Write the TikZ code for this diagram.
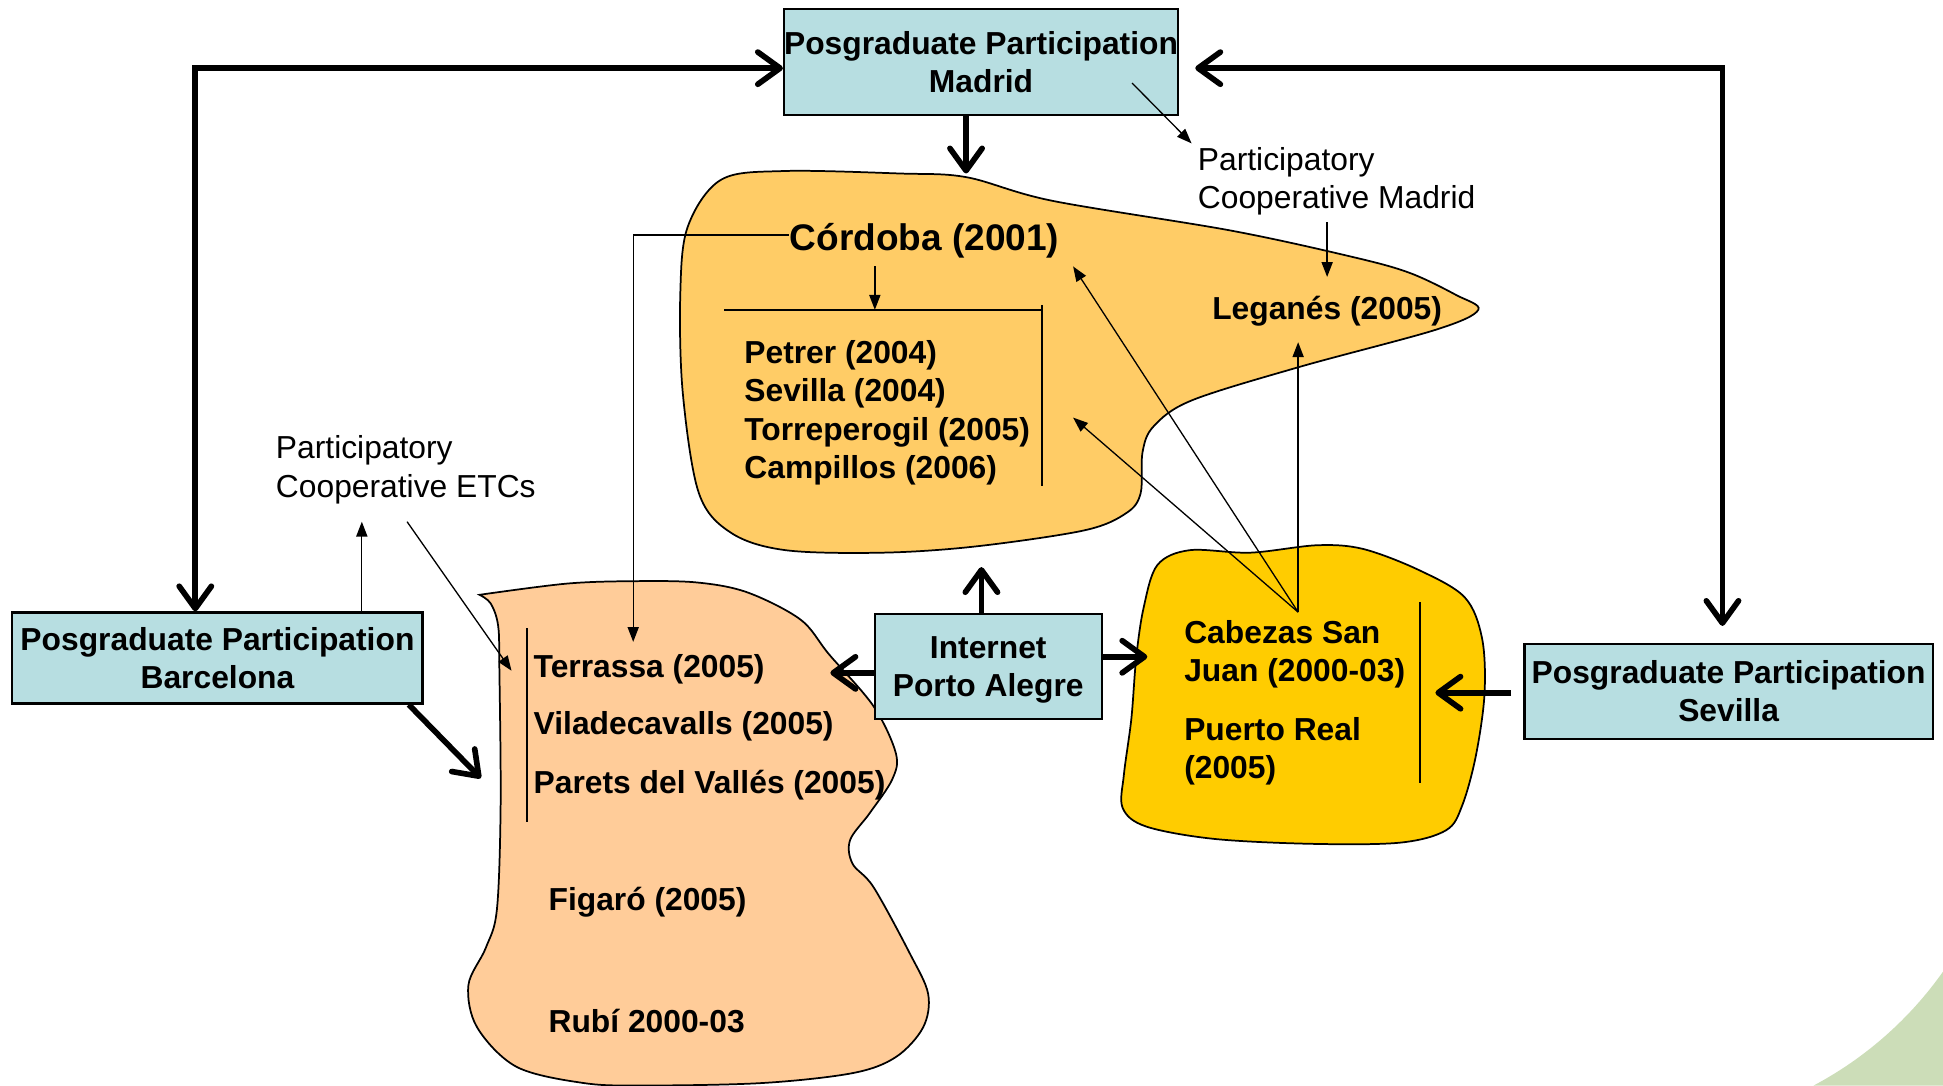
\documentclass[tikz,border=0pt]{standalone}
\usepackage{fontspec}
\setmainfont{Liberation Sans}
\usetikzlibrary{arrows.meta,calc}
\definecolor{boxblue}{RGB}{183,222,225}
\definecolor{cordorange}{RGB}{255,204,102}
\definecolor{bcnpeach}{RGB}{255,204,153}
\definecolor{cabgold}{RGB}{255,204,0}
\definecolor{cornergreen}{RGB}{204,221,184}

\begin{document}
\begin{tikzpicture}[x=0.1mm,y=-0.1mm,
    box/.style={draw,line width=0.5pt,fill=boxblue,align=center,inner sep=0pt,font=\bfseries\fontsize{7.3}{8.8}\selectfont},
    town/.style={inner sep=0pt,align=left,font=\bfseries\fontsize{7.3}{8.8}\selectfont},
    coop/.style={inner sep=0pt,align=left,font=\fontsize{7.3}{8.8}\selectfont},
    blob/.style={draw,line width=0.4pt},
    fat/.style={line width=1.3pt,>={Straight Barb[length=1.8mm,width=2.6mm,round]}},
    lnk/.style={line width=0.3pt,>={Triangle[length=1.2mm,width=0.9mm]}}]
      \useasboundingbox(0,0)rectangle(1568,876);
      \fill[cornergreen](1568,876)--(1463.6,876)arc[start angle=62.05,end angle=35.24,radius=300]--cycle;
      \draw[blob,fill=cordorange]plot[smooth cycle,tension=0.55]coordinates{(582,145)(633,138)(726,140)(780,143)(849,162)(993,186)(1090,207)(1137,220)(1175,238)(1193,250)(1159,266)(1049,296)(962,323)(931,344)(922,365)(920.5,398)(909,414)(875,428)(787,441)(712,446)(634,444)(590,430)(564,398)(551,317)(549,237)(555,183)};
      \draw[blob,fill=bcnpeach]plot[smooth,tension=0.55]coordinates{(387,480)(457,471)(511,469)(562,470)(603,478)(646,500)(669,528)(705,570)(723,608)(720,629)(702,656)(686,678)(688,697)(705,716)(734,769)(749,802)(745,829)(723,853)(688,866)(615,874)(520,876)(471,874)(417,861)(385,829)(378,795)(392,765)(401,734)(404,650)(403,540)(402,505)(396,487)(387,480)}--cycle;
      \draw[blob,fill=cabgold]plot[smooth cycle,tension=0.55]coordinates{(934,456)(960,444)(1009,446)(1063,440)(1100,443)(1145,460)(1182,482)(1196,515)(1198,560)(1191,610)(1180,650)(1167,670)(1130,680)(1060,681)(980,677)(925,667)(906,652)(907,625)(913,580)(917,530)(923,490)};

      \node[box,minimum width=31.8mm,minimum height=8.6mm](mad)at(791.7,50){Posgraduate Participation\\Madrid};
      \node[box,minimum width=33.1mm,minimum height=7.35mm](bcn)at(175.5,531){Posgraduate Participation\\Barcelona};
      \node[box,minimum width=18.3mm,minimum height=8.5mm,text depth=0pt](net)at(797.5,538){Internet\\Porto Alegre};
      \node[box,minimum width=32.95mm,minimum height=7.7mm](sev)at(1395,558){Posgraduate Participation\\Sevilla};

      \node[coop,anchor=north west](pcmad)at(966,118){Participatory\\Cooperative Madrid};
      \node[coop,anchor=north west](pcetc)at(222,351){Participatory\\Cooperative ETCs};
      \node[town,anchor=base,font=\bfseries\fontsize{8.5}{10}\selectfont](cord)at(746,202){Córdoba (2001)};
      \node[town,anchor=north west](andal)at(600,274){Petrer (2004)\\Sevilla (2004)\\Torreperogil (2005)\\Campillos (2006)};
      \node[town,anchor=base](leg)at(1071,258){Leganés (2005)};
      \node[town,anchor=base west](ter)at(430,547){Terrassa (2005)};
      \node[town,anchor=base west](vil)at(430,593){Viladecavalls (2005)};
      \node[town,anchor=base west](par)at(430,640){Parets del Vallés (2005)};
      \node[town,anchor=base west](fig)at(442,735){Figaró (2005)};
      \node[town,anchor=base west](rub)at(442,833){Rubí 2000-03};
      \node[town,anchor=north west](cab)at(955,500){Cabezas San\\Juan (2000-03)};
      \node[town,anchor=north west](pto)at(955,578){Puerto Real\\(2005)};

      \coordinate(nw)at(157.6,55);\coordinate(ne)at(1390,55);
      \coordinate(mdown)at(779.6,140);\coordinate(bdown)at(388,628);
      \draw[fat,<->](bcn.north -| nw)|-(mad.west |- nw);
      \draw[fat,<->,shorten <=1.3mm,shorten >=1.35mm](mad.east |- ne)-|(sev.north -| ne);
      \draw[fat,->](mad.south -| mdown)--(mdown);
      \draw[fat,->]([xshift=-1.2mm]bcn.south east)--(bdown);
      \draw[fat,->]([xshift=-0.55mm]net.north)--++(0,-37);
      \draw[fat,->]([yshift=-0.5mm]net.west)--++(-35,0);
      \draw[fat,->]([yshift=0.8mm]net.east)--++(36,0);
      \draw[fat,->]([yshift=-0.1mm,xshift=-1mm]sev.west)--++(-61,0);

      \coordinate(mA)at(913.6,67);\coordinate(mB)at(961.6,115.7);
      \coordinate(tA)at(511,518);\coordinate(cdn)at(706,250);
      \coordinate(bl)at(584.5,250);\coordinate(br)at(840.7,250);
      \coordinate(fork)at(1047.6,494);\coordinate(kA)at(866,215);\coordinate(kB)at(866,337);
      \coordinate(eA)at(292,421);\coordinate(eB)at(328.5,421);\coordinate(eC)at(412.8,541.3);
      \draw[lnk,->](mA)--(mB);
      \draw[lnk,->,shorten <=0.5mm,shorten >=1.5mm](pcmad.south -| leg.north)--(leg.north);
      \draw[lnk,->]([yshift=0.45mm]cord.west)-|(tA);
      \draw[lnk,->,shorten <=0.6mm](cord.south -| cdn)--(cdn);
      \draw[line width=0.4pt](bl)--(br)([yshift=0.4mm]br)--++(0,146);
      \draw[lnk,->](fork)--(kA);
      \draw[lnk,->](fork)--(kB);
      \draw[lnk,->,shorten >=1.2mm](fork)--(fork |- leg.south);
      \draw[lnk,->](bcn.north -| eA)--(eA);
      \draw[lnk,->](eB)--(eC);
      \draw[line width=0.4pt](425,507)--(425,663)(1146,486)--(1146,632);
    \end{tikzpicture}
\end{document}
